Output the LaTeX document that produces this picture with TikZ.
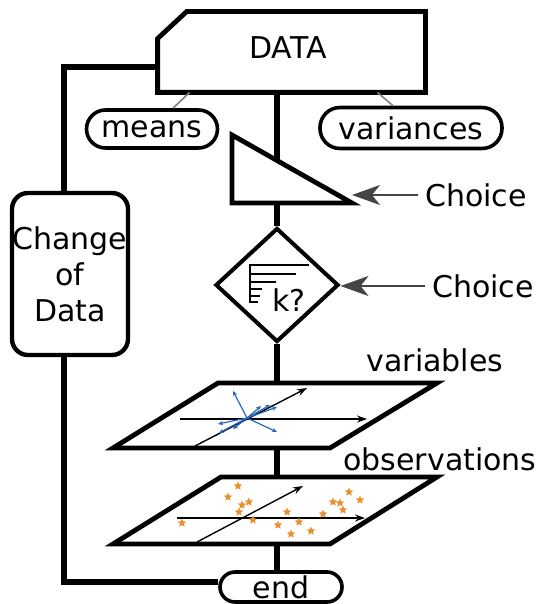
\documentclass[tikz,border=0pt]{standalone}
\usepackage{fontspec}
\setmainfont{DejaVu Sans}
\usetikzlibrary{arrows.meta,shapes.geometric}
\definecolor{mygray}{rgb}{0.27,0.27,0.27}
\definecolor{myblue}{rgb}{0.17,0.40,0.72}
\definecolor{myorange}{rgb}{0.91,0.56,0.18}

\begin{document}
\begin{tikzpicture}[x=0.5pt,y=-0.5pt,
  every node/.style={font=\fontsize{15}{18}\selectfont},
  flow/.style={line width=3.2pt},
  frame/.style={line width=2.4pt,line join=miter},
  pill/.style={draw,line width=1.8pt,inner sep=0pt},
  link/.style={gray,line width=0.8pt},
  pointer/.style={mygray,line width=1.2pt,-{Stealth[length=14pt,width=10pt,inset=4pt]}},
  axis/.style={line width=0.7pt,-{Stealth[length=5pt,width=3.5pt]}},
  vec/.style={myblue,line width=0.6pt,-{Stealth[length=2.5pt,width=2.2pt]}},
  obs/.style={star,star points=5,star point ratio=2.2,fill=myorange,inner sep=0pt,minimum size=4.5pt}]
  \useasboundingbox (0,0) rectangle (542,604);

  % data box with the cut corner
  \node[minimum width=133.5pt,minimum height=40pt,inner sep=0pt] (data) at (291.5,52) {};
  \draw[frame] ([xshift=14.5pt]data.north west) -- (data.north east) -- (data.south east)
    -- (data.south west) -- ([yshift=-13.5pt]data.north west) -- cycle;
  \node (datatext) at (288,48) {DATA};
  \node[pill,rounded corners=9.5pt,minimum width=65.5pt,minimum height=19pt] (means) at (152,129) {means};
  \node[pill,rounded corners=10pt,minimum width=91pt,minimum height=20.5pt] (variances) at (411,128) {variances};
  \draw[link] ([xshift=16pt]data.south west) -- ([xshift=10.5pt]means.north);
  \draw[link] ([xshift=-24pt]data.south east) -- ([xshift=-9pt]variances.north);

  % loop back on the left
  \node[draw,line width=2.2pt,rounded corners=8pt,minimum width=58pt,minimum height=81pt,
    align=center,inner sep=0pt] (change) at (70,274) {Change\\of\\Data};
  \node[pill,rounded corners=7.5pt,minimum width=61pt,minimum height=15pt] (finish) at (281,587) {end};
  \draw[flow] ([yshift=-7.5pt]data.west) -| ([xshift=-3pt]change.north);
  \draw[flow] ([xshift=-3pt]change.south) |- ([yshift=2.5pt]finish.west);

  % manual input
  \draw[frame] (232,135) coordinate (trnw) -- (232,203) coordinate (trsw) -- (352,203) coordinate (trtip) -- cycle;
  \coordinate (trin) at (277,161);
  \coordinate (trout) at (277,203);
  \draw[flow] ([xshift=-7.25pt]data.south) -- (trin);
  \node (choiceA) at (476,195) {Choice};
  \draw[pointer] (choiceA.west) -- (choiceA.west -| trtip);

  % choice of k
  \node[diamond,draw,line width=2pt,minimum width=61.5pt,minimum height=57pt,inner sep=0pt] (pick) at (277,285) {};
  \draw[flow] (trout) -- (pick.north);
  \draw[line width=1pt] (250,264) -- (250,303);
  \foreach \ly/\lx in {265/309,274/296,282/276,289/262,296/260,302/258}
    \draw[line width=1pt] (250,\ly) -- (\lx,\ly);
  \node (kq) at (289,300) {k?};
  \node (choiceB) at (483,286) {Choice};
  \draw[pointer] (choiceB.west) -- (choiceB.west -| pick.east);

  % plane of the variables
  \node (varlab) at (435,360) {variables};
  \draw[frame] (113,448) -- (218,383) -- (437,383) -- (330,448) -- cycle;
  \coordinate (vtop) at (277,383);
  \coordinate (vbot) at (277,448);
  \draw[flow] (pick.south) -- (vtop);
  \draw[axis] (180,419) -- (367,419);
  \draw[axis] (195,446) -- (307,388);
  \coordinate (vc) at (247,418);
  \foreach \px/\py in {233/391,277/432,261/406,270/405,277/407,218/424,219/433,233/429}
    \draw[vec] (vc) -- (\px,\py);

  % plane of the observations
  \node (obslab) at (440,459) {observations};
  \draw[frame] (113,544) -- (221,477) -- (437,477) -- (330,544) -- cycle;
  \coordinate (otop) at (277,477);
  \coordinate (obot) at (277,544);
  \draw[flow] (vbot) -- (otop);
  \draw[axis] (177,518) -- (365,518);
  \draw[axis] (197,542) -- (303,486);
  \foreach \px/\py [count=\i] in {238/486,228/497,242/505,249/502,239/512,253/520,182/523,287/512,278/525,
      299/522,291/534,311/531,323/514,333/502,340/503,343/510,349/492,360/500}
    \node[obs] (obs\i) at (\px,\py) {};
  \draw[flow] (obot) -- (obot |- finish.north);
\end{tikzpicture}
\end{document}
